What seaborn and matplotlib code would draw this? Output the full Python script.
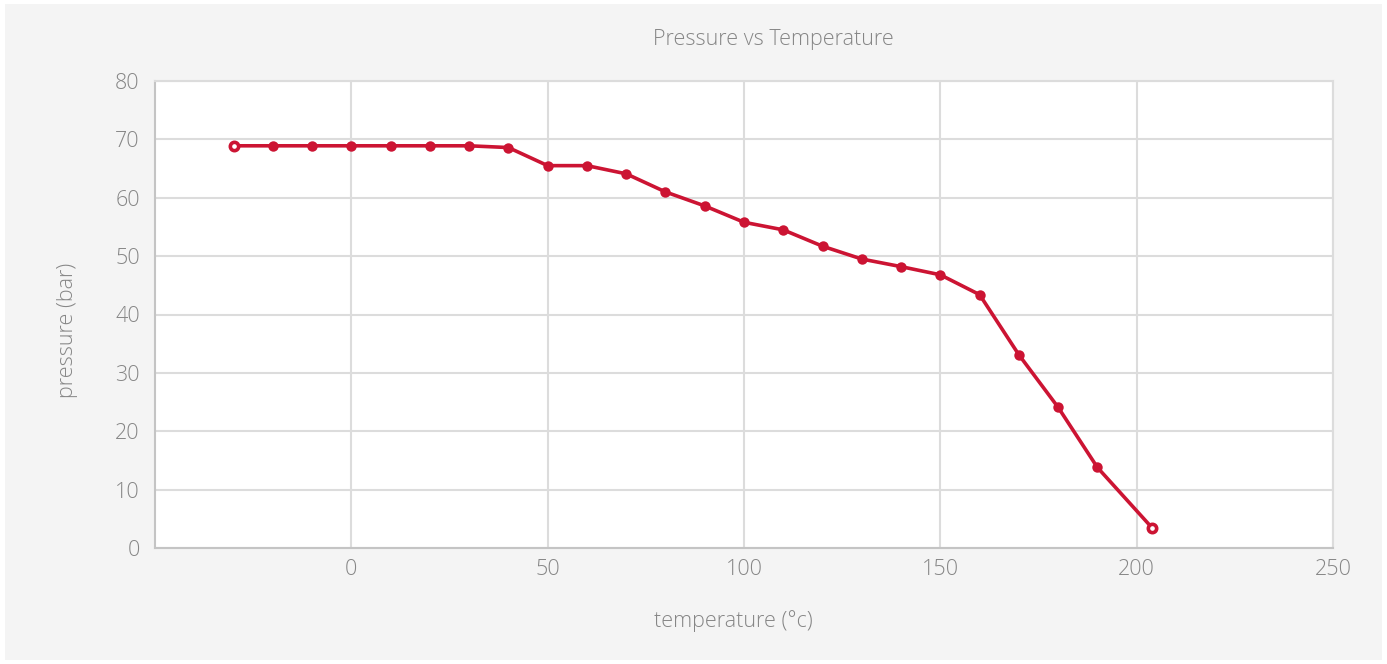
import matplotlib.pyplot as plt
import matplotlib.patches as patches
import seaborn as sns
import pandas as pd

# Data
temperature = [-30, -20, -10, 0, 10, 20, 30, 40, 50, 60, 70, 80, 90, 100,
               110, 120, 130, 140, 150, 160, 170, 180, 190, 204]
pressure = [68.9, 68.9, 68.9, 68.9, 68.9, 68.9, 68.9, 68.6, 65.5, 65.5, 64.1, 61.0,
            58.6, 55.8, 54.5, 51.7, 49.5, 48.2, 46.8, 43.4, 33.1, 24.1, 13.8, 3.4]
x_ticks = [0, 50, 100, 150, 200, 250]
y_ticks = [0, 10, 20, 30, 40, 50, 60, 70, 80]

df = pd.DataFrame({"temperature": temperature, "pressure": pressure})

sns.set_style("white")
plt.rcParams['font.family'] = ['Open Sans', 'DejaVu Sans']

line_color = "#cc1433"
text_color = "#868686"
grid_color = "#dcdcdc"

fig = plt.figure(figsize=(13.87, 6.64), dpi=100, facecolor="white")
# light gray card behind the chart
card = patches.Rectangle((5 / 1387, 4 / 664), 1377 / 1387, 656 / 664,
                         transform=fig.transFigure, facecolor="#f4f4f4",
                         edgecolor="none", zorder=-10)
fig.patches.append(card)

ax = fig.add_axes([155 / 1387, 1 - 548 / 664, (1333 - 155) / 1387, (548 - 81) / 664])
ax.set_facecolor("white")

sns.lineplot(data=df, x="temperature", y="pressure", ax=ax, color=line_color,
             linewidth=2.6, marker="o", markersize=7.5, markeredgewidth=0, zorder=3)
# first and last points have a hollow centre
ends = df.iloc[[0, -1]]
ax.plot(ends["temperature"], ends["pressure"], linestyle="none", marker="o",
        markersize=6, markerfacecolor="white", markeredgecolor=line_color,
        markeredgewidth=2.6, zorder=4)

ax.set_xlim(-50, 250)
ax.set_ylim(0, 80)
ax.set_xticks(x_ticks)
ax.set_yticks(y_ticks)
ax.grid(True, color=grid_color, linewidth=1.5)
ax.set_axisbelow(True)

for side in ["top", "right"]:
    ax.spines[side].set_color(grid_color)
    ax.spines[side].set_linewidth(1.5)
for side in ["left", "bottom"]:
    ax.spines[side].set_color("#c4c4c4")
    ax.spines[side].set_linewidth(1.5)

ax.tick_params(axis="both", length=0, labelsize=15.5, labelcolor=text_color)
ax.tick_params(axis="y", pad=11)
ax.tick_params(axis="x", pad=8)
for lbl in ax.get_xticklabels() + ax.get_yticklabels():
    lbl.set_fontweight("light")

ax.set_xlabel("")
ax.set_ylabel("")
fig.text(773 / 1387, 1 - 40 / 664, "Pressure vs Temperature", ha="center", va="center",
         fontsize=15.5, color=text_color, fontweight="light")
fig.text(733 / 1387, 1 - 621 / 664, "temperature (°c)", ha="center", va="center",
         fontsize=15.5, color=text_color, fontweight="light")
fig.text(68 / 1387, 1 - 330 / 664, "pressure (bar)", ha="center", va="center",
         rotation=90, fontsize=15.5, color=text_color, fontweight="light")

fig.savefig("out.png", dpi=100, facecolor="white")
plt.close(fig)
